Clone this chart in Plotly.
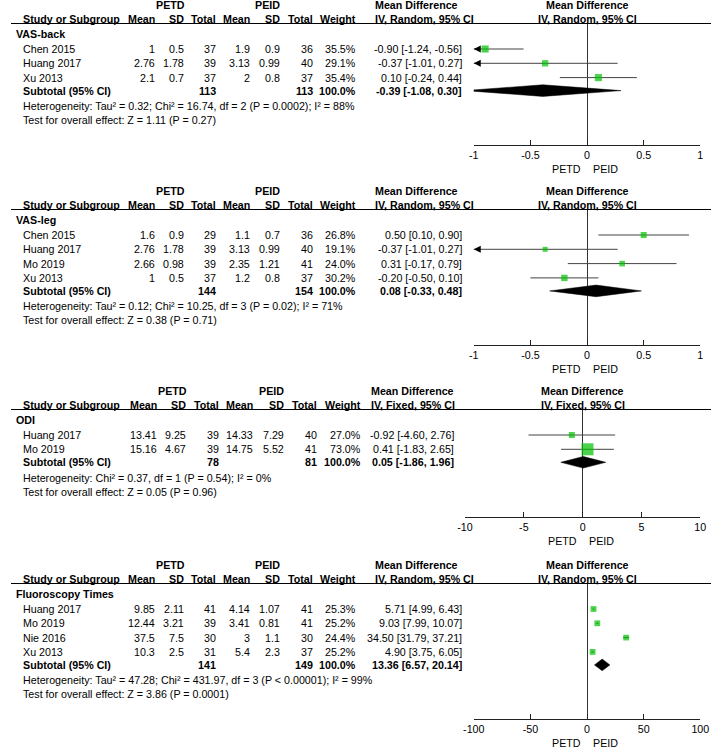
import plotly.graph_objects as go

W, H = 720, 748
FONT = "Liberation Sans, Arial, sans-serif"
FS = 10.7
GREEN = "#00C000"

# ---- VAS-back ----
vb_study = ["Chen 2015", "Huang 2017", "Xu 2013"]
vb_petd = [(1, 0.5, 37), (2.76, 1.78, 39), (2.1, 0.7, 37)]
vb_peid = [(1.9, 0.9, 36), (3.13, 0.99, 40), (2, 0.8, 37)]
vb_weight = [35.5, 29.1, 35.4]
vb_md = [(-0.90, -1.24, -0.56), (-0.37, -1.01, 0.27), (0.10, -0.24, 0.44)]
vb_total = (113, 113)
vb_pooled = (-0.39, -1.08, 0.30)
vb_het = "Heterogeneity: Tau² = 0.32; Chi² = 16.74, df = 2 (P = 0.0002); I² = 88%"
vb_test = "Test for overall effect: Z = 1.11 (P = 0.27)"
vb_ticks = [-1, -0.5, 0, 0.5, 1]

# ---- VAS-leg ----
vl_study = ["Chen 2015", "Huang 2017", "Mo 2019", "Xu 2013"]
vl_petd = [(1.6, 0.9, 29), (2.76, 1.78, 39), (2.66, 0.98, 39), (1, 0.5, 37)]
vl_peid = [(1.1, 0.7, 36), (3.13, 0.99, 40), (2.35, 1.21, 41), (1.2, 0.8, 37)]
vl_weight = [26.8, 19.1, 24.0, 30.2]
vl_md = [(0.50, 0.10, 0.90), (-0.37, -1.01, 0.27), (0.31, -0.17, 0.79), (-0.20, -0.50, 0.10)]
vl_total = (144, 154)
vl_pooled = (0.08, -0.33, 0.48)
vl_het = "Heterogeneity: Tau² = 0.12; Chi² = 10.25, df = 3 (P = 0.02); I² = 71%"
vl_test = "Test for overall effect: Z = 0.38 (P = 0.71)"
vl_ticks = [-1, -0.5, 0, 0.5, 1]

# ---- ODI ----
odi_study = ["Huang 2017", "Mo 2019"]
odi_petd = [(13.41, 9.25, 39), (15.16, 4.67, 39)]
odi_peid = [(14.33, 7.29, 40), (14.75, 5.52, 41)]
odi_weight = [27.0, 73.0]
odi_md = [(-0.92, -4.60, 2.76), (0.41, -1.83, 2.65)]
odi_total = (78, 81)
odi_pooled = (0.05, -1.86, 1.96)
odi_het = "Heterogeneity: Chi² = 0.37, df = 1 (P = 0.54); I² = 0%"
odi_test = "Test for overall effect: Z = 0.05 (P = 0.96)"
odi_ticks = [-10, -5, 0, 5, 10]

# ---- Fluoroscopy Times ----
ft_study = ["Huang 2017", "Mo 2019", "Nie 2016", "Xu 2013"]
ft_petd = [(9.85, 2.11, 41), (12.44, 3.21, 39), (37.5, 7.5, 30), (10.3, 2.5, 31)]
ft_peid = [(4.14, 1.07, 41), (3.41, 0.81, 41), (3, 1.1, 30), (5.4, 2.3, 37)]
ft_weight = [25.3, 25.2, 24.4, 25.2]
ft_md = [(5.71, 4.99, 6.43), (9.03, 7.99, 10.07), (34.50, 31.79, 37.21), (4.90, 3.75, 6.05)]
ft_total = (141, 149)
ft_pooled = (13.36, 6.57, 20.14)
ft_het = "Heterogeneity: Tau² = 47.28; Chi² = 431.97, df = 3 (P < 0.00001); I² = 99%"
ft_test = "Test for overall effect: Z = 3.86 (P = 0.0001)"
ft_ticks = [-100, -50, 0, 50, 100]

panels = [
    dict(name="VAS-back", study=vb_study, petd=vb_petd, peid=vb_peid, weight=vb_weight, md=vb_md,
         total=vb_total, pooled=vb_pooled, het=vb_het, test=vb_test, ticks=vb_ticks,
         model="IV, Random, 95% CI", top=19, sc=1.0, md_r=466, md_l=372, fx=(476, 709)),
    dict(name="VAS-leg", study=vl_study, petd=vl_petd, peid=vl_peid, weight=vl_weight, md=vl_md,
         total=vl_total, pooled=vl_pooled, het=vl_het, test=vl_test, ticks=vl_ticks,
         model="IV, Random, 95% CI", top=205, sc=1.0, md_r=466, md_l=372, fx=(476, 709)),
    dict(name="ODI", study=odi_study, petd=odi_petd, peid=odi_peid, weight=odi_weight, md=odi_md,
         total=odi_total, pooled=odi_pooled, het=odi_het, test=odi_test, ticks=odi_ticks,
         model="IV, Fixed, 95% CI", top=405, sc=1.013, md_r=458, md_l=368, fx=(467, 709)),
    dict(name="Fluoroscopy Times", study=ft_study, petd=ft_petd, peid=ft_peid, weight=ft_weight, md=ft_md,
         total=ft_total, pooled=ft_pooled, het=ft_het, test=ft_test, ticks=ft_ticks,
         model="IV, Random, 95% CI", top=579, sc=1.0, md_r=466, md_l=372, fx=(476, 709)),
]

# right edges of the numeric columns (px) and centres of the group headers
COLS = [150, 180, 213, 248, 279, 313, 357]
GROUP_X = [164, 264]


def py(y):
    return 1 - y / H


fig = go.Figure()
annotations = []
shapes = []
layout_axes = {}


def txt(x, y, s, anchor="left", bold=False, size=FS, **kw):
    annotations.append(dict(
        x=x / W if "xref" not in kw else x, y=py(y), text=f"<b>{s}</b>" if bold else s,
        xref=kw.pop("xref", "paper"), yref="paper", xanchor=anchor, yanchor="middle",
        showarrow=False, font=dict(family=FONT, size=size, color="black"), **kw))


for k, p in enumerate(panels, start=1):
    h = p["top"]
    sc = p["sc"]
    cols = [c * sc for c in COLS]
    n = len(p["study"])
    rows = [h + 30 + 14.3 * i for i in range(n)]
    sub_y = rows[-1] + 13
    het_y = sub_y + 15.5
    test_y = het_y + 14
    axis_y = test_y + 25
    line_y = h + 4.5

    # group headers
    txt(GROUP_X[0] * sc, h - 14, "PETD", "center", True)
    txt(GROUP_X[1] * sc, h - 14, "PEID", "center", True)
    txt(p["md_l"], h - 14, "Mean Difference", "left", True)
    # column headers
    txt(10 * sc, h, "Study or Subgroup", "left", True)
    for c, lab in zip(cols, ["Mean", "SD", "Total", "Mean", "SD", "Total", "Weight"]):
        txt(c, h, lab, "right", True)
    txt(p["md_l"], h, p["model"], "left", True)
    shapes.append(dict(type="line", xref="paper", yref="paper", x0=0, x1=1,
                       y0=py(line_y), y1=py(line_y), line=dict(color="black", width=1)))

    txt(3, h + 14.5, p["name"], "left", True)
    for i, y in enumerate(rows):
        txt(10 * sc, y, p["study"][i])
        vals = list(p["petd"][i]) + list(p["peid"][i])
        for c, v in zip(cols[:6], vals):
            txt(c, y, f"{v:g}", "right")
        txt(cols[6], y, f"{p['weight'][i]:.1f}%", "right")
        m, lo, hi = p["md"][i]
        txt(p["md_r"], y, f"{m:.2f} [{lo:.2f}, {hi:.2f}]", "right")
    txt(10 * sc, sub_y, "Subtotal (95% CI)", "left", True)
    txt(cols[2], sub_y, str(p["total"][0]), "right", True)
    txt(cols[5], sub_y, str(p["total"][1]), "right", True)
    txt(cols[6], sub_y, "100.0%", "right", True)
    m, lo, hi = p["pooled"]
    txt(p["md_r"], sub_y, f"{m:.2f} [{lo:.2f}, {hi:.2f}]", "right", True)
    txt(10 * sc, het_y, p["het"])
    txt(10 * sc, test_y, p["test"])

    # forest axes
    xn = "x" if k == 1 else f"x{k}"
    yn = "y" if k == 1 else f"y{k}"
    xa = "xaxis" if k == 1 else f"xaxis{k}"
    ya = "yaxis" if k == 1 else f"yaxis{k}"
    xmin, xmax = p["ticks"][0], p["ticks"][-1]
    layout_axes[xa] = dict(
        domain=[p["fx"][0] / W, p["fx"][1] / W], range=[xmin, xmax], anchor=yn,
        tickvals=p["ticks"], ticktext=[f"{t:g}" for t in p["ticks"]],
        showline=True, linecolor="#222", linewidth=1, ticks="inside", ticklen=5,
        tickcolor="#222", showgrid=False, zeroline=True, zerolinecolor="#333",
        zerolinewidth=1, tickfont=dict(family=FONT, size=FS, color="black"), fixedrange=True)
    layout_axes[ya] = dict(
        domain=[py(axis_y), py(line_y)], range=[axis_y, line_y], anchor=xn,
        visible=False, showgrid=False, zeroline=False, fixedrange=True)

    # header over the plot, and favours labels
    txt(0, h - 14, "Mean Difference", "center", True, xref=xn)
    txt(0, h, p["model"], "center", True, xref=xn)
    txt(0, axis_y + 24, "PETD", "right", xref=xn, xshift=-4)
    txt(0, axis_y + 24, "PEID", "left", xref=xn, xshift=4)

    # confidence intervals
    cx, cy = [], []
    for (m, lo, hi), y in zip(p["md"], rows):
        cx += [lo, hi, None]
        cy += [y, y, None]
    fig.add_trace(go.Scatter(x=cx, y=cy, xaxis=xn, yaxis=yn, mode="lines",
                             line=dict(color="#444", width=1), hoverinfo="skip"))
    # arrows for intervals past the axis
    ax_, ay_, asym = [], [], []
    for (m, lo, hi), y in zip(p["md"], rows):
        if lo < xmin:
            ax_.append(xmin); ay_.append(y); asym.append("arrow-left")
        if hi > xmax:
            ax_.append(xmax); ay_.append(y); asym.append("arrow-right")
    if ax_:
        fig.add_trace(go.Scatter(x=ax_, y=ay_, xaxis=xn, yaxis=yn, mode="markers",
                                 marker=dict(symbol=asym, size=7, color="black"),
                                 cliponaxis=False, hoverinfo="skip"))
    # study squares
    fig.add_trace(go.Scatter(
        x=[d[0] for d in p["md"]], y=rows, xaxis=xn, yaxis=yn, mode="markers",
        marker=dict(symbol="square", color=GREEN, size=[2.5 + 0.13 * w for w in p["weight"]],
                    line=dict(width=0)),
        cliponaxis=False, hoverinfo="skip"))
    # pooled diamond
    m, lo, hi = p["pooled"]
    dh = 5.8
    fig.add_trace(go.Scatter(
        x=[lo, m, hi, m, lo], y=[sub_y, sub_y - dh, sub_y, sub_y + dh, sub_y],
        xaxis=xn, yaxis=yn, mode="lines", fill="toself", fillcolor="black",
        line=dict(color="black", width=0.5), hoverinfo="skip"))

fig.update_layout(
    width=W, height=H, autosize=False,
    margin=dict(l=0, r=0, t=0, b=0),
    paper_bgcolor="white", plot_bgcolor="white",
    showlegend=False, hovermode=False,
    annotations=annotations, shapes=shapes,
    **layout_axes,
)

# drop the page's default body margin so the figure fills the window
fig.write_html("out.html", config={"displayModeBar": False},
               post_script="document.body.style.margin='0';")
